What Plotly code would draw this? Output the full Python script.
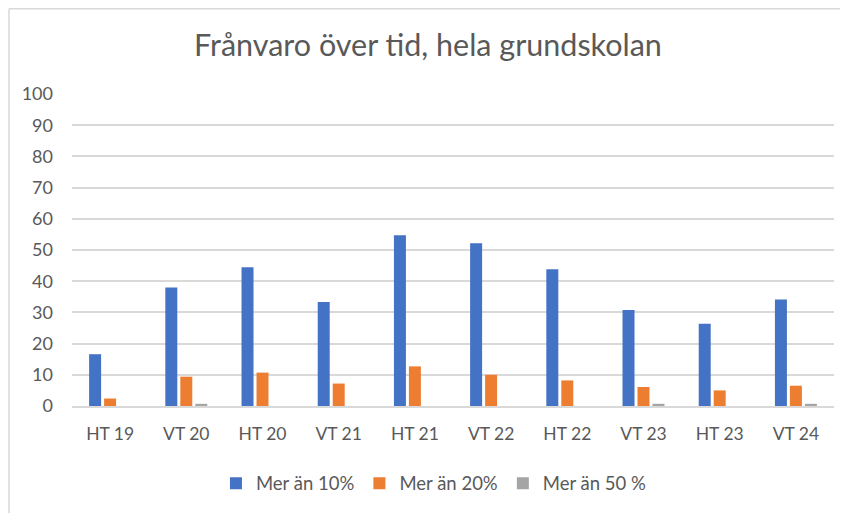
import plotly.graph_objects as go

categories = ["HT 19", "VT 20", "HT 20", "VT 21", "HT 21", "VT 22", "HT 22", "VT 23", "HT 23", "VT 24"]
mer_10 = [16.6, 38.0, 44.5, 33.3, 54.7, 52.2, 43.8, 30.8, 26.4, 34.1]
mer_20 = [2.4, 9.4, 10.7, 7.2, 12.7, 10.0, 8.2, 6.1, 5.0, 6.5]
mer_50 = [0, 0.7, 0, 0, 0, 0, 0, 0.7, 0, 0.7]
series_names = ["Mer än 10%", "Mer än 20%", "Mer än 50 %"]
colors = ["#4472C4", "#ED7D31", "#A5A5A5"]
y_ticks = [0, 10, 20, 30, 40, 50, 60, 70, 80, 90, 100]

FONT = "Lato, 'Open Sans', sans-serif"

fig = go.Figure()
for name, vals, c in zip(series_names, [mer_10, mer_20, mer_50], colors):
    fig.add_trace(go.Bar(x=categories, y=vals, name=name, marker=dict(color=c, line=dict(width=0))))

fig.update_layout(
    width=840, height=505,
    margin=dict(l=64, r=14, t=86, b=106),
    paper_bgcolor="white", plot_bgcolor="white",
    barmode="group", bargap=0.41, bargroupgap=0.2,
    title=dict(text="Frånvaro över tid, hela grundskolan", x=0.5, xanchor="center",
               y=0.927, yanchor="middle", font=dict(family=FONT, size=30.5, color="#595959")),
    font=dict(family=FONT, color="#595959"),
    legend=dict(orientation="h", x=0.475, xanchor="center", y=-0.245, yanchor="middle",
                font=dict(family=FONT, size=18.5, color="#595959"), itemwidth=30, traceorder="normal"),
    xaxis=dict(tickfont=dict(size=17.5, color="#595959"), showline=True, linecolor="#d9d9d9",
               linewidth=2, ticks="", ticklabelstandoff=11),
    yaxis=dict(range=[0, 100], tickvals=y_ticks, tickfont=dict(size=18, color="#595959"),
               showgrid=True, gridcolor="#d9d9d9", gridwidth=1.5, zeroline=False, ticks="",
               ticklabelstandoff=18),
    showlegend=True,
)
# chart-area border (top and left edges visible in the reference crop)
fig.add_shape(type="line", xref="paper", yref="paper", x0=-0.0827, x1=1.05, y0=1.273, y1=1.273,
              line=dict(color="#d9d9d9", width=1.5), layer="below")
fig.add_shape(type="line", xref="paper", yref="paper", x0=-0.0827, x1=-0.0827, y0=-0.4, y1=1.273,
              line=dict(color="#d9d9d9", width=1.5), layer="below")

fig.write_html("out.html")
